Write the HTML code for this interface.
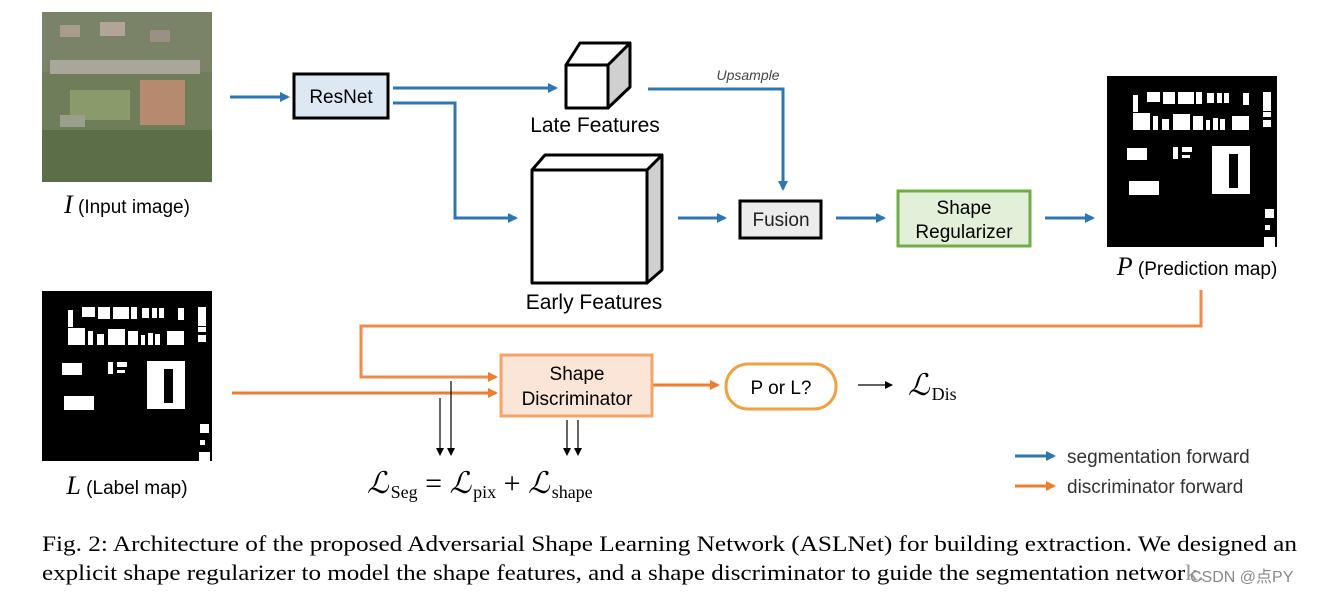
<!DOCTYPE html>
<html><head><meta charset="utf-8"><style>
body{margin:0;background:#fff;}
svg{display:block;}
.s{font-family:"Liberation Sans",sans-serif;}
.r{font-family:"Liberation Serif",serif;}
</style></head><body>
<svg width="1320" height="596" viewBox="0 0 1320 596" xmlns="http://www.w3.org/2000/svg">
<defs>
<marker id="bA" markerWidth="10" markerHeight="10" refX="8" refY="5" orient="auto" markerUnits="userSpaceOnUse"><path d="M0,0 L10,5 L0,10 z" fill="#2e75b6"/></marker>
<marker id="oA" markerWidth="10" markerHeight="10" refX="8" refY="5" orient="auto" markerUnits="userSpaceOnUse"><path d="M0,0 L10,5 L0,10 z" fill="#ed7d31"/></marker>
<marker id="kA" markerWidth="8" markerHeight="8" refX="7" refY="4" orient="auto" markerUnits="userSpaceOnUse"><path d="M0,0 L8,4 L0,8 z" fill="#000"/></marker>
<g id="bld" fill="#fff">
<rect x="26" y="19" width="5" height="17"/>
<rect x="40" y="16" width="13" height="10"/><rect x="56" y="16" width="12" height="12"/><rect x="71" y="16" width="10" height="12"/><rect x="81" y="16" width="6" height="12"/><rect x="89" y="16" width="6" height="12"/><rect x="100" y="17" width="7" height="10"/><rect x="110" y="17" width="5" height="10"/><rect x="117" y="17" width="5" height="10"/><rect x="136" y="17" width="6" height="12"/><rect x="156" y="16" width="8" height="19"/>
<rect x="26" y="37" width="17" height="17"/><rect x="46" y="40" width="5" height="14"/><rect x="55" y="43" width="7" height="11"/><rect x="66" y="38" width="17" height="16"/><rect x="86" y="40" width="10" height="14"/><rect x="99" y="44" width="4" height="10"/><rect x="106" y="42" width="5" height="12"/><rect x="113" y="43" width="5" height="11"/><rect x="125" y="40" width="17" height="14"/><rect x="156" y="36" width="8" height="5"/><rect x="156" y="44" width="8" height="7"/>
<rect x="20" y="72" width="20" height="12"/><rect x="66" y="71" width="5" height="12"/><rect x="75" y="71" width="10" height="5"/><rect x="75" y="79" width="8" height="3"/>
<path d="M105,70 H143 V118 H105 Z M122,78 V112 H131 V78 Z" fill-rule="evenodd"/>
<rect x="22" y="105" width="30" height="14"/><rect x="158" y="133" width="9" height="9"/><rect x="158" y="149" width="5" height="5"/><rect x="157" y="161" width="11" height="11"/>
</g>
</defs>

<!-- input image -->
<rect x="42" y="12" width="170" height="170" fill="#6f7d5a"/>
<rect x="42" y="12" width="170" height="60" fill="#7a8367"/>
<rect x="50" y="60" width="150" height="14" fill="#a9a79a"/>
<rect x="140" y="80" width="45" height="45" fill="#b58a6e"/>
<rect x="70" y="90" width="60" height="30" fill="#8a9a6a"/>
<rect x="42" y="130" width="170" height="52" fill="#5c6e48"/>
<rect x="60" y="25" width="20" height="12" fill="#a89a8c"/><rect x="100" y="22" width="25" height="14" fill="#b2a598"/><rect x="150" y="30" width="20" height="12" fill="#9c8f84"/>
<rect x="60" y="115" width="25" height="12" fill="#9a9f8c"/>
<text x="127" y="213" class="s" font-size="19" text-anchor="middle"><tspan class="r" font-style="italic" font-size="26">I</tspan> (Input image)</text>

<!-- label map -->
<rect x="42" y="291" width="170" height="170" fill="#000"/>
<use href="#bld" x="42" y="291"/>
<text x="127" y="494" class="s" font-size="19" text-anchor="middle"><tspan class="r" font-style="italic" font-size="26">L</tspan> (Label map)</text>

<!-- prediction map -->
<rect x="1107" y="76" width="170" height="171" fill="#000"/>
<use href="#bld" x="1107" y="76"/>
<text x="1197" y="275" class="s" font-size="19" text-anchor="middle"><tspan class="r" font-style="italic" font-size="26">P</tspan> (Prediction map)</text>

<!-- blue connectors -->
<g stroke="#2e75b6" stroke-width="3" fill="none">
<line x1="230" y1="97" x2="288" y2="97" marker-end="url(#bA)"/>
<line x1="393" y1="88" x2="556" y2="88" marker-end="url(#bA)"/>
<polyline points="393,103 455,103 455,218 516,218" marker-end="url(#bA)"/>
<polyline points="648,89 783,89 783,189" marker-end="url(#bA)"/>
<line x1="678" y1="218" x2="725" y2="218" marker-end="url(#bA)"/>
<line x1="836" y1="218" x2="884" y2="218" marker-end="url(#bA)"/>
<line x1="1045" y1="218" x2="1093" y2="218" marker-end="url(#bA)"/>
<line x1="1015" y1="456" x2="1054" y2="456" marker-end="url(#bA)"/>
</g>
<text x="748" y="80" class="s" font-size="14" font-style="italic" fill="#444" text-anchor="middle">Upsample</text>

<!-- ResNet -->
<rect x="294" y="74" width="94" height="44" fill="#dde8f5" stroke="#000" stroke-width="3"/>
<text x="341" y="103" class="s" font-size="19" text-anchor="middle">ResNet</text>

<!-- late cube -->
<g stroke="#000" stroke-width="3" stroke-linejoin="round">
<polygon points="608,65 630,43 630,87 608,108" fill="#d0d0d0"/>
<polygon points="566,65 580,43 630,43 608,65" fill="#fff"/>
<rect x="566" y="65" width="42" height="43" fill="#fff"/>
</g>
<text x="595" y="132" class="s" font-size="21" text-anchor="middle">Late Features</text>

<!-- early cube -->
<g stroke="#000" stroke-width="3" stroke-linejoin="round">
<polygon points="647,170 662,155 662,270 647,283" fill="#d0d0d0"/>
<polygon points="532,170 545,155 662,155 647,170" fill="#fff"/>
<rect x="532" y="170" width="115" height="113" fill="#fff"/>
</g>
<text x="594" y="309" class="s" font-size="21" text-anchor="middle">Early Features</text>

<!-- Fusion -->
<rect x="740" y="201" width="81" height="37" fill="#ececec" stroke="#000" stroke-width="3"/>
<text x="781" y="226" class="s" font-size="19" text-anchor="middle" fill="#222">Fusion</text>

<!-- Shape regularizer -->
<rect x="898" y="191" width="132" height="55" fill="#e2efd9" stroke="#70ad47" stroke-width="3"/>
<text x="964" y="214" class="s" font-size="19" text-anchor="middle">Shape</text>
<text x="964" y="238" class="s" font-size="19" text-anchor="middle">Regularizer</text>

<!-- orange connectors -->
<g stroke="#ed7d31" stroke-width="3" fill="none">
<polyline points="1201,290 1201,326 361,326 361,377 496,377" marker-end="url(#oA)" stroke="#ed8c4a"/>
<line x1="232" y1="393" x2="496" y2="393" marker-end="url(#oA)"/>
<line x1="653" y1="385" x2="718" y2="385" marker-end="url(#oA)"/>
<line x1="1015" y1="486" x2="1054" y2="486" marker-end="url(#oA)"/>
</g>

<!-- Shape discriminator -->
<rect x="501" y="355" width="151" height="61" fill="#fbe5d6" stroke="#f4a46a" stroke-width="3"/>
<text x="577" y="380" class="s" font-size="19" text-anchor="middle">Shape</text>
<text x="577" y="405" class="s" font-size="19" text-anchor="middle">Discriminator</text>

<!-- P or L -->
<rect x="726" y="364" width="110" height="45" rx="22" fill="#fff" stroke="#f0a040" stroke-width="3"/>
<text x="781" y="394" class="s" font-size="19" text-anchor="middle">P or L?</text>
<line x1="858" y1="385" x2="892" y2="385" stroke="#000" stroke-width="1.2" marker-end="url(#kA)"/>
<text x="908" y="395" class="r" font-size="30" font-style="italic">ℒ<tspan font-style="normal" font-size="18" dy="5" dx="2">Dis</tspan></text>

<!-- thin arrows -->
<g stroke="#000" stroke-width="1.2">
<line x1="440" y1="398" x2="440" y2="455" marker-end="url(#kA)"/>
<line x1="451" y1="381" x2="451" y2="455" marker-end="url(#kA)"/>
<line x1="567" y1="420" x2="567" y2="455" marker-end="url(#kA)"/>
<line x1="578" y1="420" x2="578" y2="455" marker-end="url(#kA)"/>
</g>
<text x="367" y="493" class="r" font-size="30"><tspan font-style="italic">ℒ</tspan><tspan font-size="18" dy="5" dx="2">Seg</tspan><tspan dy="-5"> = </tspan><tspan font-style="italic">ℒ</tspan><tspan font-size="18" dy="5" dx="2">pix</tspan><tspan dy="-5"> + </tspan><tspan font-style="italic">ℒ</tspan><tspan font-size="18" dy="5" dx="2">shape</tspan></text>

<!-- legend -->
<text x="1067" y="463" class="s" font-size="19" fill="#333">segmentation forward</text>
<text x="1067" y="493" class="s" font-size="19" fill="#333">discriminator forward</text>

<!-- caption -->
<text x="42" y="551" class="r" font-size="22" textLength="1255" lengthAdjust="spacingAndGlyphs">Fig. 2: Architecture of the proposed Adversarial Shape Learning Network (ASLNet) for building extraction. We designed an</text>
<text x="42" y="580" class="r" font-size="22" textLength="1162" lengthAdjust="spacingAndGlyphs">explicit shape regularizer to model the shape features, and a shape discriminator to guide the segmentation network.</text>
<rect x="1186" y="562" width="115" height="24" fill="#fff" opacity="0.6"/>
<text x="1190" y="582" font-family="'Liberation Sans','Noto Sans CJK SC',sans-serif" font-size="16" fill="#888">CSDN @点PY</text>
</svg>
</body></html>
